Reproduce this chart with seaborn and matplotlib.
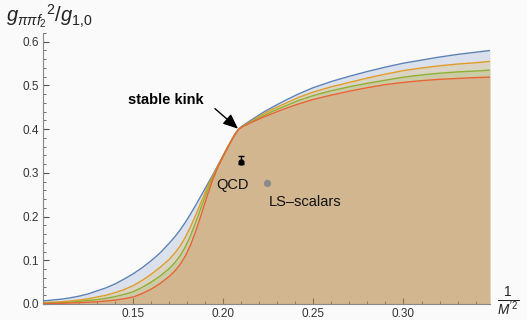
import numpy as np
import pandas as pd
import matplotlib
matplotlib.use("Agg")
import matplotlib.pyplot as plt
from matplotlib.ticker import MultipleLocator, FormatStrFormatter
import seaborn as sns

# ---------------- data ----------------
x_vals = [0.100, 0.105, 0.110, 0.115, 0.120, 0.125, 0.130, 0.135, 0.140, 0.145,
          0.150, 0.155, 0.160, 0.165, 0.170, 0.173, 0.176, 0.179, 0.182, 0.185,
          0.188, 0.191, 0.194, 0.197, 0.200, 0.203, 0.206, 0.2085, 0.2105, 0.213,
          0.216, 0.222, 0.228, 0.235, 0.242, 0.250, 0.260, 0.270, 0.280, 0.290,
          0.300, 0.310, 0.320, 0.330, 0.340, 0.348]

blue = [0.007, 0.009, 0.011, 0.014, 0.018, 0.023, 0.030, 0.037, 0.046, 0.057,
        0.069, 0.083, 0.099, 0.117, 0.139, 0.153, 0.169, 0.187, 0.207, 0.228,
        0.250, 0.272, 0.294, 0.317, 0.340, 0.363, 0.385, 0.400, 0.407, 0.414,
        0.422, 0.438, 0.452, 0.467, 0.481, 0.495, 0.509, 0.521, 0.532, 0.542,
        0.551, 0.558, 0.565, 0.571, 0.576, 0.580]

orange = [0.003, 0.004, 0.005, 0.007, 0.009, 0.012, 0.016, 0.020, 0.026, 0.033,
          0.042, 0.054, 0.068, 0.084, 0.102, 0.116, 0.132, 0.153, 0.178, 0.206,
          0.236, 0.265, 0.291, 0.316, 0.339, 0.363, 0.385, 0.400, 0.406, 0.412,
          0.419, 0.434, 0.447, 0.460, 0.473, 0.485, 0.497, 0.507, 0.517, 0.526,
          0.534, 0.540, 0.545, 0.549, 0.552, 0.555]

green = [0.002, 0.0025, 0.003, 0.004, 0.006, 0.008, 0.010, 0.013, 0.017, 0.022,
         0.028, 0.038, 0.050, 0.064, 0.081, 0.094, 0.110, 0.131, 0.158, 0.190,
         0.224, 0.257, 0.288, 0.315, 0.339, 0.363, 0.385, 0.400, 0.406, 0.411,
         0.418, 0.430, 0.442, 0.454, 0.466, 0.477, 0.488, 0.497, 0.505, 0.512,
         0.519, 0.524, 0.528, 0.531, 0.533, 0.535]

red = [0.001, 0.0013, 0.0017, 0.0023, 0.003, 0.004, 0.005, 0.007, 0.009, 0.012,
       0.016, 0.024, 0.034, 0.047, 0.063, 0.075, 0.090, 0.110, 0.136, 0.170,
       0.207, 0.246, 0.282, 0.313, 0.338, 0.362, 0.384, 0.399, 0.405, 0.410,
       0.416, 0.427, 0.437, 0.448, 0.458, 0.468, 0.478, 0.487, 0.495, 0.502,
       0.507, 0.511, 0.514, 0.516, 0.518, 0.519]

series_names = ["blue", "orange", "green", "red"]
series_colors = ["#5e81b5", "#e19c24", "#8fb032", "#eb6235"]

qcd_x, qcd_y, qcd_lo, qcd_hi = 0.2097, 0.324, 0.3197, 0.3387
ls_x, ls_y = 0.2244, 0.276

x_ticks = [0.15, 0.20, 0.25, 0.30]
y_ticks = [0.0, 0.1, 0.2, 0.3, 0.4, 0.5, 0.6]

# ---------------- styling ----------------
sns.set_style("ticks")
plt.rcParams["font.family"] = ["Liberation Sans", "DejaVu Sans"]
plt.rcParams["mathtext.fontset"] = "custom"
plt.rcParams["mathtext.rm"] = "Liberation Sans"
plt.rcParams["mathtext.it"] = "Liberation Sans:italic"
plt.rcParams["mathtext.bf"] = "Liberation Sans:bold"

bg = "#fafafa"
fig = plt.figure(figsize=(5.27, 3.20), dpi=100, facecolor=bg)
ax = fig.add_axes([43 / 527, 16 / 320, (490 - 43) / 527, (304 - 33) / 320])
ax.set_facecolor(bg)

df = pd.DataFrame({
    "x": x_vals * 4,
    "y": blue + orange + green + red,
    "series": sum([[n] * len(x_vals) for n in series_names], []),
})

for name, col in zip(series_names, series_colors):
    sub = df[df["series"] == name]
    ax.fill_between(sub["x"], 0, sub["y"], color=col, alpha=0.2, lw=0, zorder=1)

sns.lineplot(data=df, x="x", y="y", hue="series", palette=series_colors,
             hue_order=series_names, estimator=None, sort=True, lw=1.0,
             legend=False, ax=ax, zorder=3)

# QCD point with error bar
ax.errorbar([qcd_x], [qcd_y], yerr=[[qcd_y - qcd_lo], [qcd_hi - qcd_y]],
            fmt="o", color="black", ms=3.5, capsize=2.5, elinewidth=1.0,
            capthick=1.0, zorder=5)
# LS-scalars point
ax.plot([ls_x], [ls_y], "o", color="#8a8a8a", ms=4.2, zorder=5)

ax.text(0.2054, 0.272, "QCD", fontsize=10.5, ha="center", va="center", color="#111111")
ax.text(0.2254, 0.233, "LS\u2013scalars", fontsize=10.5, ha="left", va="center", color="#111111")
ax.text(0.1682, 0.467, "stable kink", fontsize=10.5, fontweight="bold", ha="center",
        va="center", color="black")
ax.annotate("", xy=(0.2082, 0.401), xytext=(0.1954, 0.447),
            arrowprops=dict(arrowstyle="-|>,head_length=0.9,head_width=0.38",
                            color="black", lw=1.0, shrinkA=0, shrinkB=0), zorder=6)

ax.set_xlim(0.10, 0.348)
ax.set_ylim(0.0, 0.62)
ax.set_xticks(x_ticks)
ax.set_yticks(y_ticks)
ax.xaxis.set_minor_locator(MultipleLocator(0.01))
ax.yaxis.set_minor_locator(MultipleLocator(0.02))
ax.xaxis.set_major_formatter(FormatStrFormatter("%.2f"))
ax.yaxis.set_major_formatter(FormatStrFormatter("%.1f"))
ax.tick_params(which="major", direction="in", length=4, width=0.8, color="#555555",
               labelsize=8.5, labelcolor="#333333", pad=3)
ax.tick_params(which="minor", direction="in", length=2.3, width=0.6, color="#555555")
ax.set_xlabel("")
ax.set_ylabel("")
for s in ["top", "right"]:
    ax.spines[s].set_visible(False)
for s in ["left", "bottom"]:
    ax.spines[s].set_color("#888888")
    ax.spines[s].set_linewidth(0.8)

fig.text(6 / 527, 1 - 16 / 320, r"$g_{\pi\pi f_2}{}^{2}/g_{1{,}0}$", fontsize=14.5,
         ha="left", va="center", color="#222222")
fig.text(508 / 527, 1 - 301.5 / 320, r"$\frac{1}{M'^2}$", fontsize=14,
         ha="center", va="center", color="#222222")

fig.savefig("out.png", dpi=100, facecolor=bg)
